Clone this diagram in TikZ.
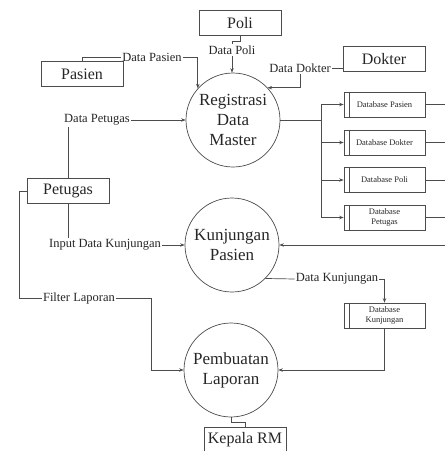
\documentclass[tikz,border=0pt]{standalone}
\usepackage{fontspec}
\setmainfont{Liberation Serif}
\usetikzlibrary{arrows.meta}

\begin{document}
\begin{tikzpicture}[x=1pt, y=-1pt, line width=0.7pt,
		every node/.style={text=black!85},
		ent/.style={draw=black!70, rectangle, minimum width=82pt, minimum height=25pt, inner sep=1pt, font=\fontsize{16}{18}\selectfont},
		proc/.style={draw=black!70, circle, minimum size=94pt, inner sep=0pt, align=center, font=\fontsize{17}{20}\selectfont},
		store/.style={draw=black!70, rectangle, minimum width=81pt, minimum height=25pt, inner sep=1pt, align=center, font=\fontsize{8.5}{10}\selectfont,
			path picture={\draw[black!70, line width=0.5pt] ([xshift=5pt]path picture bounding box.north west) -- ([xshift=5pt]path picture bounding box.south west);}},
		lbl/.style={inner sep=1pt, font=\fontsize{12.5}{14}\selectfont},
		flow/.style={-{Stealth[length=4.5pt, width=3.5pt]}}]
		\useasboundingbox (0,0) rectangle (445,451);
		
		\node[ent] (poli) at (240,23) {Poli};
		\node[ent] (pasien) at (82,74) {Pasien};
		\node[ent] (dokter) at (384,59) {Dokter};
		\node[ent] (petugas) at (68,191) {Petugas};
		\node[ent] (kepala) at (245,440) {Kepala RM};
		
		\node[proc] (reg) at (233,120) {Registrasi\\Data\\Master};
		\node[proc] (kun) at (232,245) {Kunjungan\\Pasien};
		\node[proc] (lap) at (231,370) {Pembuatan\\Laporan};
		
		\node[store] (dbpas) at (384.5,104.5) {Database Pasien};
		\node[store] (dbdok) at (384.5,142.5) {Database Dokter};
		\node[store] (dbpol) at (384.5,180) {Database Poli};
		\node[store] (dbpet) at (384.5,217.5) {Database\\Petugas};
		\node[store] (dbkun) at (384.5,315.5) {Database\\Kunjungan};
		
		\node[lbl] (lpas) at (152,57) {Data Pasien};
		\node[lbl] (lpol) at (232,50) {Data Poli};
		\node[lbl] (ldok) at (300,68) {Data Dokter};
		\node[lbl] (lpet) at (97,120) {Data Petugas};
		\node[lbl] (linp) at (105,245) {Input Data Kunjungan};
		\node[lbl] (lkun) at (337,279) {Data Kunjungan};
		\node[lbl] (lfil) at (79,298) {Filter Laporan};
		
		\coordinate (split) at (321,120);
		\coordinate (edgek) at (445,245);
		
		\draw[black!70] (pasien.north) |- (lpas.west);
		\draw[black!70, flow] (lpas.east) -| (reg.138);
		\draw[black!70] (poli.south) -- ++(0,5) -| (lpol.north);
		\draw[black!70, flow] (lpol.south) -- (lpol.south |- reg.north);
		\draw[black!70] (dokter.west |- ldok.east) -- (ldok.east);
		\draw[black!70, flow] (ldok.south) |- (reg.43);
		\draw[black!70, flow] (lpet.east) -- (reg.west);
		\draw[black!70] (petugas.north) -- (petugas.north |- lpet.south);
		\draw[black!70] (petugas.south) -- (petugas.south |- linp.north);
		\draw[black!70, flow] (linp.east) -- (kun.west);
		\draw[black!70] (petugas.west) -- ++(-7,0) |- (lfil.west);
		\draw[black!70, flow] (lfil.east) -- ++(35,0) |- (lap.west);
		
		\draw[black!70] (reg.east) -- (split);
		\draw[black!70] (split |- dbpas) -- (split |- dbpet);
		\draw[black!70, flow] (split |- dbpas) -- (dbpas.west);
		\draw[black!70, flow] (split |- dbdok) -- (dbdok.west);
		\draw[black!70, flow] (split |- dbpol) -- (dbpol.west);
		\draw[black!70, flow] (split |- dbpet) -- (dbpet.west);
		\draw[black!70] (dbpas.east) -- (dbpas.east -| edgek);
		\draw[black!70] (dbdok.east) -- (dbdok.east -| edgek);
		\draw[black!70] (dbpol.east) -- (dbpol.east -| edgek);
		\draw[black!70] (dbpet.east) -- (dbpet.east -| edgek);
		
		\draw[black!70, flow] (edgek) -- (kun.east);
		\draw[black!70] (kun.-45) -- (lkun.west);
		\draw[black!70, flow] (lkun.east) -| (dbkun.north);
		\draw[black!70, flow] (dbkun.south) |- (lap.east);
		\draw[black!70] (lap.south) -- ++(0,5) -| (kepala.north);
		
	\end{tikzpicture}
\end{document}
